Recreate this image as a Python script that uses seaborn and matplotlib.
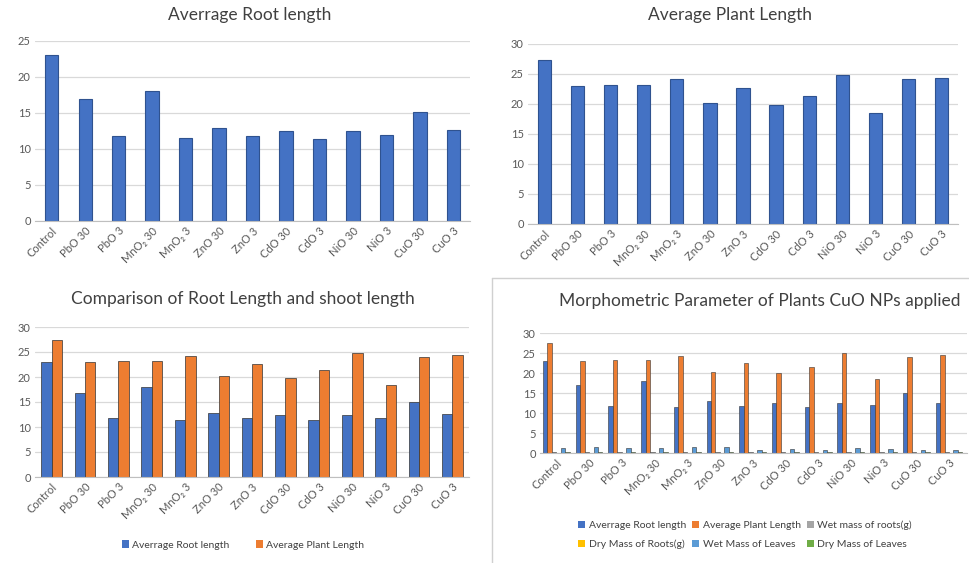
import pandas as pd
import numpy as np
import matplotlib
matplotlib.use("Agg")
import matplotlib.pyplot as plt
import seaborn as sns
from matplotlib.patches import Patch

sns.set_style("white")
plt.rcParams['font.family'] = ['Lato', 'DejaVu Sans']

# data
treatments = ["Control", "PbO 30", "PbO 3", "MnO\u2082 30", "MnO\u2082 3", "ZnO 30", "ZnO 3",
              "CdO 30", "CdO 3", "NiO 30", "NiO 3", "CuO 30", "CuO 3"]
root_length = [23.0, 16.9, 11.8, 18.0, 11.5, 12.9, 11.8, 12.5, 11.4, 12.5, 11.9, 15.1, 12.6]
plant_length = [27.4, 23.0, 23.2, 23.2, 24.2, 20.2, 22.6, 19.9, 21.4, 24.9, 18.5, 24.1, 24.4]
wet_mass_roots = [0.3, 0.3, 0.3, 0.3, 0.3, 0.3, 0.3, 0.3, 0.3, 0.3, 0.3, 0.3, 0.3]
dry_mass_roots = [0.1, 0.1, 0.1, 0.1, 0.1, 0.1, 0.1, 0.1, 0.1, 0.1, 0.1, 0.1, 0.1]
wet_mass_leaves = [1.2, 1.6, 1.3, 1.3, 1.5, 1.6, 0.8, 1.1, 0.8, 1.3, 1.0, 0.7, 0.8]
dry_mass_leaves = [0.3, 0.3, 0.3, 0.3, 0.3, 0.3, 0.3, 0.3, 0.3, 0.3, 0.3, 0.3, 0.3]

series_names = ["Averrage Root length", "Average Plant Length", "Wet mass of roots(g)",
                "Dry Mass of Roots(g)", "Wet Mass of Leaves", "Dry Mass of Leaves"]
series_values = [root_length, plant_length, wet_mass_roots,
                 dry_mass_roots, wet_mass_leaves, dry_mass_leaves]
series_colors = ["#4472C4", "#ED7D31", "#A5A5A5", "#FFC000", "#5B9BD5", "#70AD47"]

W, H = 970, 563
fig = plt.figure(figsize=(9.7, 5.63), dpi=100)


def px(l, t, r, b):
    return [l / W, 1 - b / H, (r - l) / W, (b - t) / H]


def style_axes(ax, ymax):
    ax.set_ylim(0, ymax)
    ax.set_yticks(np.arange(0, ymax + 1, 5))
    ax.yaxis.grid(True, color="#D9D9D9", linewidth=0.9)
    ax.set_axisbelow(True)
    for s in ["top", "right", "left"]:
        ax.spines[s].set_visible(False)
    ax.spines["bottom"].set_color("#BFBFBF")
    ax.tick_params(axis="both", length=0, labelsize=8, colors="#595959", pad=3)
    ax.set_xlabel("")
    ax.set_ylabel("")
    plt.setp(ax.get_xticklabels(), rotation=45, ha="right", rotation_mode="anchor")


# --- top left: root length
ax1 = fig.add_axes(px(35, 41, 470, 221))
sns.barplot(x=treatments, y=root_length, color=series_colors[0], saturation=1,
            width=0.4, edgecolor="#2F528F", linewidth=0.8, ax=ax1)
style_axes(ax1, 25)
fig.text(250 / W, 1 - 15 / H, "Averrage Root length", ha="center", va="center",
         fontsize=12.5, color="#404040")

# --- top right: plant length
ax2 = fig.add_axes(px(528, 44, 958, 224))
sns.barplot(x=treatments, y=plant_length, color=series_colors[0], saturation=1,
            width=0.4, edgecolor="#2F528F", linewidth=0.8, ax=ax2)
style_axes(ax2, 30)
fig.text(730 / W, 1 - 15 / H, "Average Plant Length", ha="center", va="center",
         fontsize=12.5, color="#404040")

# --- bottom left: root vs plant
df2 = pd.DataFrame({
    "treatment": treatments * 2,
    "value": root_length + plant_length,
    "series": [series_names[0]] * len(treatments) + [series_names[1]] * len(treatments),
})
ax3 = fig.add_axes(px(35, 327, 469, 477))
sns.barplot(data=df2, x="treatment", y="value", hue="series", palette=series_colors[:2],
            saturation=1, width=0.62, edgecolor="#333333", linewidth=0.5, ax=ax3,
            legend=False)
style_axes(ax3, 30)
fig.text(243 / W, 1 - 299 / H, "Comparison of Root Length and shoot length", ha="center",
         va="center", fontsize=12.5, color="#404040")
handles = [Patch(facecolor=c, edgecolor="none") for c in series_colors[:2]]
fig.legend(handles, series_names[:2], loc="center", bbox_to_anchor=(243 / W, 1 - 545 / H),
           ncol=2, frameon=False, fontsize=7.5, handlelength=0.7, handleheight=0.7,
           handletextpad=0.3, columnspacing=2.5, labelcolor="#404040")

# --- bottom right: all parameters
rows = []
for name, vals in zip(series_names, series_values):
    for t, v in zip(treatments, vals):
        rows.append({"treatment": t, "value": v, "series": name})
df6 = pd.DataFrame(rows)
ax4 = fig.add_axes(px(540, 333, 967, 453))
sns.barplot(data=df6, x="treatment", y="value", hue="series", palette=series_colors,
            saturation=1, width=0.82, edgecolor="#333333", linewidth=0.4, ax=ax4,
            legend=False)
style_axes(ax4, 30)
ax4.set_xlim(-0.5, 12.55)
fig.text(760 / W, 1 - 301 / H, "Morphometric Parameter of Plants CuO NPs applied",
         ha="center", va="center", fontsize=12.5, color="#404040")
handles = [Patch(facecolor=c, edgecolor="none") for c in series_colors]
order = [0, 3, 1, 4, 2, 5]
fig.legend([handles[i] for i in order], [series_names[i] for i in order], loc="center",
           bbox_to_anchor=(745 / W, 1 - 535 / H), ncol=3, frameon=False, fontsize=7.5,
           handlelength=0.7, handleheight=0.7, handletextpad=0.3, columnspacing=0.6,
           labelspacing=0.9, labelcolor="#404040")

# border around lower right chart
fig.add_artist(plt.Line2D([492.5 / W, 492.5 / W], [0, 1 - 278 / H], transform=fig.transFigure,
                          color="#D0D0D0", linewidth=1))
fig.add_artist(plt.Line2D([492.5 / W, 1], [1 - 278 / H, 1 - 278 / H], transform=fig.transFigure,
                          color="#D0D0D0", linewidth=1))

fig.savefig("out.png", dpi=100, facecolor="white")
